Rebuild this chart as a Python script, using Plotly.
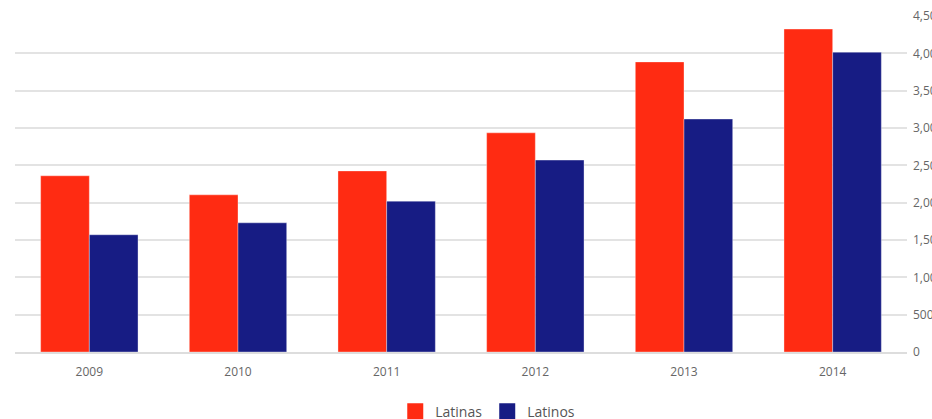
import plotly.graph_objects as go

years = ["2009", "2010", "2011", "2012", "2013", "2014"]
latinas = [2360, 2105, 2425, 2935, 3885, 4325]
latinos = [1570, 1730, 2020, 2570, 3120, 4015]
y_ticks = [0, 500, 1000, 1500, 2000, 2500, 3000, 3500, 4000, 4500]
y_labels = ["0", "500", "1,000", "1,500", "2,000", "2,500", "3,000", "3,500", "4,000", "4,500"]
series_names = ["Latinas", "Latinos"]
series_colors = ["#FF2B12", "#171C84"]

fig = go.Figure()
for name, vals, col in zip(series_names, [latinas, latinos], series_colors):
    fig.add_trace(go.Bar(x=years, y=vals, name=name, showlegend=False, legendgroup=name,
                         marker=dict(color=col, line=dict(color="rgba(255,255,255,0.35)", width=1))))
# legend keys (larger square swatches)
for name, col in zip(series_names, series_colors):
    fig.add_trace(go.Scatter(x=[None], y=[None], mode="markers", name=name, legendgroup=name,
                             marker=dict(symbol="square", size=16, color=col)))

fig.update_layout(
    width=932, height=419,
    margin=dict(l=15, r=25, t=16, b=67, autoexpand=False),
    paper_bgcolor="white", plot_bgcolor="white",
    barmode="group", bargap=0.345, bargroupgap=0,
    font=dict(family="Open Sans, sans-serif", color="#666666", size=12),
    showlegend=True,
    legend=dict(orientation="h", x=0.53, xanchor="center", y=-0.13, yanchor="top",
                itemwidth=30, font=dict(size=14, color="#555555"), itemclick=False),
    xaxis=dict(showgrid=False, showline=True, linecolor="#dddddd", linewidth=2,
               ticks="", ticklabelstandoff=8, automargin=False,
               tickfont=dict(size=12, color="#666666"), fixedrange=True),
    yaxis=dict(side="right", range=[0, 4500], tickvals=y_ticks, ticktext=y_labels,
               showgrid=True, gridcolor="#e3e3e3", gridwidth=1.5, zeroline=False,
               ticks="", ticklabelstandoff=5, automargin=False,
               tickfont=dict(size=12, color="#666666"), fixedrange=True),
)

fig.write_html("out.html")
